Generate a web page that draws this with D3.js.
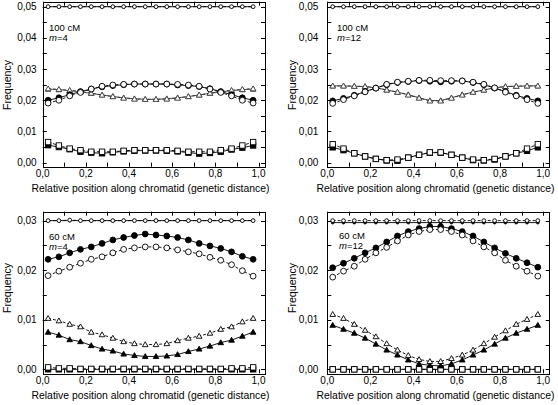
<!DOCTYPE html>
<html><head><meta charset="utf-8">
<script src="https://cdn.jsdelivr.net/npm/d3@7"></script>
<style>body{margin:0;background:#fff}svg{display:block}text{font-family:"Liberation Sans",Arial,sans-serif;fill:#000}</style>
</head><body><svg id="c" width="558" height="405"></svg>
<script>
const positions = [0.025,0.075,0.125,0.175,0.225,0.275,0.325,0.375,0.425,0.475,0.525,0.575,0.625,0.675,0.725,0.775,0.825,0.875,0.925,0.975];
const xTicks = [0,0.2,0.4,0.6,0.8,1.0];
const yTicks100 = [0,0.01,0.02,0.03,0.04,0.05];
const yTicks60 = [0,0.01,0.02,0.03];
const panelTitles = ["100 cM","100 cM","60 cM","60 cM"];
const panelM = ["4","12","4","12"];

// Panel 1: 100 cM, m=4
const p1TopFilled = [0.0500,0.0500,0.0500,0.0500,0.0500,0.0500,0.0500,0.0500,0.0500,0.0500,0.0500,0.0500,0.0500,0.0500,0.0500,0.0500,0.0500,0.0500,0.0500,0.0500];
const p1TopOpen   = [0.0500,0.0500,0.0500,0.0500,0.0500,0.0500,0.0500,0.0500,0.0500,0.0500,0.0500,0.0500,0.0500,0.0500,0.0500,0.0500,0.0500,0.0500,0.0500,0.0500];
const p1CircFilled = [0.0200,0.0208,0.0218,0.0228,0.0236,0.0243,0.0247,0.0250,0.0252,0.0252,0.0252,0.0252,0.0249,0.0247,0.0244,0.0237,0.0228,0.0218,0.0208,0.0200];
const p1CircOpen   = [0.0191,0.0200,0.0214,0.0225,0.0236,0.0245,0.0249,0.0251,0.0252,0.0252,0.0252,0.0252,0.0251,0.0249,0.0245,0.0236,0.0225,0.0214,0.0200,0.0191];
const p1TriFilled = [0.0236,0.0234,0.0231,0.0227,0.0222,0.0217,0.0212,0.0208,0.0205,0.0203,0.0203,0.0205,0.0208,0.0212,0.0217,0.0222,0.0227,0.0231,0.0234,0.0236];
const p1TriOpen   = [0.0237,0.0235,0.0232,0.0228,0.0223,0.0217,0.0212,0.0207,0.0204,0.0203,0.0203,0.0204,0.0207,0.0212,0.0217,0.0223,0.0228,0.0232,0.0235,0.0237];
const p1SqFilled = [0.0056,0.0050,0.0043,0.0035,0.0032,0.0030,0.0033,0.0036,0.0038,0.0039,0.0039,0.0038,0.0036,0.0032,0.0029,0.0031,0.0035,0.0042,0.0048,0.0055];
const p1SqOpen   = [0.0066,0.0055,0.0045,0.0040,0.0035,0.0035,0.0035,0.0038,0.0040,0.0040,0.0040,0.0040,0.0038,0.0035,0.0035,0.0035,0.0040,0.0045,0.0055,0.0066];

// Panel 2: 100 cM, m=12
const p2TopFilled = [0.0500,0.0500,0.0500,0.0500,0.0500,0.0500,0.0500,0.0500,0.0500,0.0500,0.0500,0.0500,0.0500,0.0500,0.0500,0.0500,0.0500,0.0500,0.0500,0.0500];
const p2TopOpen   = [0.0500,0.0500,0.0500,0.0500,0.0500,0.0500,0.0500,0.0500,0.0500,0.0500,0.0500,0.0500,0.0500,0.0500,0.0500,0.0500,0.0500,0.0500,0.0500,0.0500];
const p2CircFilled = [0.0198,0.0206,0.0216,0.0228,0.0239,0.0250,0.0257,0.0260,0.0263,0.0261,0.0259,0.0261,0.0262,0.0257,0.0250,0.0239,0.0228,0.0216,0.0206,0.0198];
const p2CircOpen   = [0.0190,0.0202,0.0214,0.0227,0.0239,0.0251,0.0258,0.0261,0.0264,0.0264,0.0263,0.0263,0.0262,0.0258,0.0251,0.0240,0.0226,0.0214,0.0202,0.0190];
const p2TriFilled = [0.0246,0.0246,0.0245,0.0244,0.0240,0.0233,0.0226,0.0218,0.0208,0.0199,0.0199,0.0208,0.0218,0.0226,0.0233,0.0240,0.0244,0.0245,0.0246,0.0246];
const p2TriOpen   = [0.0246,0.0246,0.0245,0.0244,0.0240,0.0233,0.0226,0.0217,0.0207,0.0198,0.0198,0.0207,0.0217,0.0226,0.0233,0.0240,0.0244,0.0245,0.0246,0.0246];
const p2SqFilled = [0.0049,0.0040,0.0030,0.0020,0.0012,0.0007,0.0006,0.0016,0.0025,0.0032,0.0032,0.0025,0.0016,0.0008,0.0007,0.0010,0.0020,0.0030,0.0038,0.0049];
const p2SqOpen   = [0.0059,0.0045,0.0030,0.0020,0.0012,0.0008,0.0010,0.0016,0.0025,0.0033,0.0033,0.0025,0.0016,0.0010,0.0008,0.0012,0.0020,0.0030,0.0045,0.0059];

// Panel 3: 60 cM, m=4
const p3TopFilled = [0.0300,0.0300,0.0300,0.0300,0.0300,0.0300,0.0300,0.0300,0.0300,0.0300,0.0300,0.0300,0.0300,0.0300,0.0300,0.0300,0.0300,0.0300,0.0300,0.0300];
const p3TopOpen   = [0.0300,0.0300,0.0301,0.0300,0.0300,0.0300,0.0300,0.0300,0.0300,0.0300,0.0300,0.0300,0.0300,0.0300,0.0300,0.0300,0.0300,0.0300,0.0300,0.0300];
const p3CircFilled = [0.0222,0.0227,0.0235,0.0242,0.0247,0.0254,0.0261,0.0266,0.0270,0.0273,0.0271,0.0269,0.0266,0.0261,0.0254,0.0249,0.0244,0.0237,0.0228,0.0222];
const p3CircOpen   = [0.0189,0.0198,0.0206,0.0214,0.0222,0.0227,0.0235,0.0242,0.0245,0.0247,0.0247,0.0245,0.0241,0.0237,0.0233,0.0226,0.0220,0.0211,0.0199,0.0188];
const p3TriFilled = [0.0075,0.0069,0.0060,0.0056,0.0048,0.0041,0.0037,0.0031,0.0028,0.0026,0.0026,0.0027,0.0030,0.0036,0.0041,0.0047,0.0054,0.0059,0.0067,0.0075];
const p3TriOpen   = [0.0103,0.0098,0.0091,0.0086,0.0075,0.0070,0.0063,0.0056,0.0052,0.0050,0.0050,0.0052,0.0058,0.0063,0.0067,0.0073,0.0081,0.0086,0.0096,0.0103];
const p3SqFilled = [0.0000,0.0000,0.0000,0.0000,0.0000,0.0000,0.0000,0.0000,0.0000,0.0000,0.0000,0.0000,0.0000,0.0000,0.0000,0.0000,0.0000,0.0000,0.0000,0.0000];
const p3SqOpen   = [0.0004,0.0002,0.0002,0.0001,0.0001,0.0001,0.0001,0.0001,0.0001,0.0001,0.0001,0.0001,0.0001,0.0001,0.0001,0.0001,0.0001,0.0002,0.0002,0.0004];

// Panel 4: 60 cM, m=12
const p4TopFilled = [0.0296,0.0296,0.0296,0.0296,0.0296,0.0296,0.0296,0.0296,0.0296,0.0296,0.0296,0.0296,0.0296,0.0296,0.0296,0.0296,0.0296,0.0296,0.0296,0.0296];
const p4TopOpen   = [0.0300,0.0300,0.0300,0.0300,0.0300,0.0300,0.0300,0.0300,0.0300,0.0300,0.0300,0.0300,0.0300,0.0300,0.0300,0.0300,0.0300,0.0300,0.0300,0.0300];
const p4CircFilled = [0.0205,0.0214,0.0224,0.0235,0.0245,0.0257,0.0269,0.0278,0.0284,0.0288,0.0288,0.0284,0.0278,0.0269,0.0257,0.0245,0.0234,0.0224,0.0215,0.0206];
const p4CircOpen   = [0.0186,0.0198,0.0208,0.0222,0.0235,0.0246,0.0259,0.0271,0.0278,0.0282,0.0282,0.0278,0.0271,0.0259,0.0247,0.0235,0.0220,0.0208,0.0198,0.0188];
const p4TriFilled = [0.0089,0.0081,0.0073,0.0063,0.0051,0.0039,0.0029,0.0019,0.0011,0.0008,0.0007,0.0011,0.0019,0.0029,0.0039,0.0051,0.0063,0.0073,0.0081,0.0089];
const p4TriOpen   = [0.0111,0.0103,0.0091,0.0079,0.0066,0.0052,0.0039,0.0028,0.0020,0.0016,0.0016,0.0022,0.0029,0.0039,0.0052,0.0065,0.0078,0.0091,0.0101,0.0111];
const p4SqFilled = [0.0000,0.0000,0.0000,0.0000,0.0000,0.0000,0.0000,0.0000,0.0000,0.0000,0.0000,0.0000,0.0000,0.0000,0.0000,0.0000,0.0000,0.0000,0.0000,0.0000];
const p4SqOpen   = [0.0000,0.0000,0.0000,0.0000,0.0000,0.0000,0.0000,0.0000,0.0000,0.0000,0.0000,0.0000,0.0000,0.0000,0.0000,0.0000,0.0000,0.0000,0.0000,0.0000];

const panelData = [
  [p1TopFilled,p1TopOpen,p1SqFilled,p1SqOpen,p1TriFilled,p1TriOpen,p1CircFilled,p1CircOpen],
  [p2TopFilled,p2TopOpen,p2SqFilled,p2SqOpen,p2TriFilled,p2TriOpen,p2CircFilled,p2CircOpen],
  [p3TopFilled,p3TopOpen,p3SqFilled,p3SqOpen,p3TriFilled,p3TriOpen,p3CircFilled,p3CircOpen],
  [p4TopFilled,p4TopOpen,p4SqFilled,p4SqOpen,p4TriFilled,p4TriOpen,p4CircFilled,p4CircOpen]
];
const seriesStyle = [
  {shape:"small", filled:true}, {shape:"small", filled:false},
  {shape:"square", filled:true}, {shape:"square", filled:false},
  {shape:"triangle", filled:true}, {shape:"triangle", filled:false},
  {shape:"circle", filled:true}, {shape:"circle", filled:false}
];

const layout = [
  {l:42.7, r:265, t:1.7, b:166.7, ymin:-0.0013, ymax:0.0516, ticks:yTicks100, fx:7, fy:85, ax:49, ay:31, tickLabGap:6, xlc:150.5},
  {l:327.3, r:549.7, t:1.7, b:166.7, ymin:-0.0013, ymax:0.0516, ticks:yTicks100, fx:292, fy:85, ax:337, ay:31, tickLabGap:9, xlc:435.5},
  {l:42.7, r:265, t:211.7, b:373.3, ymin:-0.0008, ymax:0.0318, ticks:yTicks60, fx:7, fy:288, ax:49, ay:240, tickLabGap:6, xlc:150.5},
  {l:327.3, r:549.7, t:211.7, b:373.3, ymin:-0.0008, ymax:0.0318, ticks:yTicks60, fx:292, fy:288, ax:339, ay:239, tickLabGap:9, xlc:435.5}
];

const svg = d3.select("#c");
const fmt = (d,dec) => d.toFixed(dec).replace(".", ",");

layout.forEach((L,pi) => {
  const x = d3.scaleLinear().domain([0,1.03]).range([L.l, L.r]);
  const y = d3.scaleLinear().domain([L.ymin, L.ymax]).range([L.b, L.t]);
  const g = svg.append("g");

  const xt = d3.range(0, 1.0001, 0.1);
  const yt = d3.range(0, L.ymax, 0.005);
  const tk = g.append("g").attr("stroke","#000").attr("stroke-width",1);
  xt.forEach(v => {
    const px = Math.round(x(v))+0.5;
    tk.append("line").attr("x1",px).attr("x2",px).attr("y1",L.b).attr("y2",L.b-4);
    tk.append("line").attr("x1",px).attr("x2",px).attr("y1",L.t).attr("y2",L.t+4);
  });
  yt.forEach(v => {
    const py = Math.round(y(v))+0.5;
    tk.append("line").attr("x1",L.l).attr("x2",L.l+4).attr("y1",py).attr("y2",py);
    tk.append("line").attr("x1",L.r).attr("x2",L.r-4).attr("y1",py).attr("y2",py);
  });
  g.append("rect").attr("x",Math.round(L.l)+0.5).attr("y",Math.round(L.t)+0.5)
    .attr("width",Math.round(L.r-L.l)).attr("height",Math.round(L.b-L.t))
    .attr("fill","none").attr("stroke","#000").attr("stroke-width",1);

  xTicks.forEach(v => {
    g.append("text").attr("x",x(v)).attr("y",L.b+10.5).attr("text-anchor","middle")
      .attr("font-size",10).text(fmt(v,1));
  });
  L.ticks.forEach(v => {
    g.append("text").attr("x",L.l-L.tickLabGap).attr("y",y(v)+3.5).attr("text-anchor","end")
      .attr("font-size",10).text(fmt(v,2));
  });
  g.append("text").attr("x",L.xlc).attr("y",L.b+25.5).attr("text-anchor","middle")
    .attr("font-size",10.4).text("Relative position along chromatid (genetic distance)");
  g.append("text").attr("transform",`translate(${L.fx},${L.fy}) rotate(-90)`)
    .attr("text-anchor","middle").attr("dominant-baseline","central")
    .attr("font-size",10.6).text("Frequency");
  g.append("text").attr("x",L.ax).attr("y",L.ay).attr("font-size",9.5).text(panelTitles[pi]);
  const mt = g.append("text").attr("x",L.ax).attr("y",L.ay+9.5).attr("font-size",9.5);
  mt.append("tspan").attr("font-style","italic").text("m");
  mt.append("tspan").text("=" + panelM[pi]);

  const line = d3.line().x((d,i)=>x(positions[i])).y(d=>y(d));
  panelData[pi].forEach((vals,si) => {
    const st = seriesStyle[si];
    g.append("path").attr("d", line(vals)).attr("fill","none")
      .attr("stroke", st.shape==="triangle" && pi<2 ? "#333" : "#000").attr("stroke-width",0.9)
      .attr("stroke-dasharray", st.filled ? null : "3,2");
  });
  panelData[pi].forEach((vals,si) => {
    const st = seriesStyle[si];
    const fill = st.filled ? "#000" : "#fff";
    const mg = g.append("g").attr("fill",fill).attr("stroke","#000").attr("stroke-width",0.9);
    vals.forEach((v,i) => {
      const cx = x(positions[i]), cy = y(v);
      if (st.shape==="small") {
        mg.append("circle").attr("cx",cx).attr("cy",cy).attr("r", st.filled?1.4:1.9);
      } else if (st.shape==="circle") {
        mg.append("circle").attr("cx",cx).attr("cy",cy).attr("r",2.9);
      } else if (st.shape==="square") {
        mg.append("rect").attr("x",cx-2.7).attr("y",cy-2.7).attr("width",5.4).attr("height",5.4);
      } else {
        const s = 2.8;
        mg.append("path").attr("d",`M${cx},${cy-s}L${cx+s},${cy+s*0.75}L${cx-s},${cy+s*0.75}Z`)
          .attr("stroke", pi<2 ? "#444":"#000");
      }
    });
  });
});
</script></body></html>
